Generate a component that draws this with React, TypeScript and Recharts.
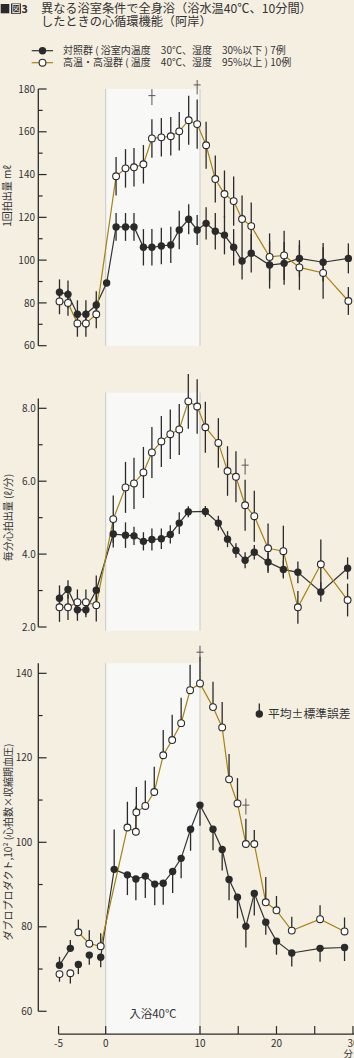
import React from 'react';
import {
  ComposedChart,
  Line,
  Scatter,
  XAxis,
  YAxis,
  ErrorBar,
  ReferenceArea,
  ReferenceLine,
  ReferenceDot,
} from 'recharts';

// ======================= DATA =======================
// x: minutes from start of bath (bath 0–10 min)
const xTickMinutes = [-5, 0, 10, 15, 20, 25, 30];
const xTickLabels = ['-5', '0', '10', '', '20', '', '30'];

// ---- Panel 1: 1回拍出量 (mℓ) ----
const svTimeCtrl = [-4.9, -4.0, -3.0, -2.1, -1.0, 0.1, 1.1, 2.1, 3.0, 4.0, 4.9, 5.9, 6.9, 7.8, 8.8, 9.7, 10.8, 12.0, 13.2, 14.4, 15.5, 16.7, 19.1, 21.0, 23.0, 26.1, 29.4];
const svCtrl = [85.0, 84.0, 74.7, 74.7, 79.0, 89.3, 115.5, 115.5, 115.5, 106.0, 106.0, 106.6, 107.1, 114.1, 119.1, 114.1, 117.2, 113.5, 111.7, 106.0, 99.6, 103.2, 97.7, 98.5, 100.8, 99.0, 100.8];
const svCtrlSE = [6, 6.5, 6.5, 6.5, 6.5, 0, 6.5, 6.5, 6.5, 8.5, 8.5, 8.5, 8.5, 9, 7, 7, 7.5, 8.5, 9, 8.5, 8.7, 9, 11, 10, 8.5, 9, 7];
const svTimeHigh = [-4.9, -4.0, -3.0, -2.1, -1.0, 1.1, 2.1, 3.0, 4.0, 4.9, 5.9, 6.9, 7.8, 8.8, 9.7, 10.8, 12.0, 13.2, 14.4, 15.5, 16.7, 19.1, 21.0, 23.0, 26.1, 29.4];
const svHigh = [80.7, 80.0, 70.4, 70.4, 74.7, 139.2, 142.9, 143.4, 144.8, 156.9, 157.4, 157.9, 160.2, 165.4, 163.6, 153.7, 137.9, 130.9, 127.6, 119.2, 115.9, 101.5, 102.2, 96.6, 94.0, 80.9];
const svHighSE = [6, 6, 6.2, 6.2, 6.5, 9, 9, 9, 9, 9, 9, 9, 9, 11.5, 11.5, 11, 11, 11, 11.5, 11, 11, 11, 11.5, 10.5, 12, 6.5];
const svDaggerTime = [4.9, 9.7];
const svDaggerLevel = [176.9, 181.9];

// ---- Panel 2: 毎分心拍出量 (ℓ/分) ----
const coTimeCtrl = [-4.9, -4.0, -3.0, -2.1, -1.0, 0.8, 2.1, 3.0, 4.0, 4.9, 5.9, 6.85, 7.8, 8.76, 10.7, 12.4, 13.6, 14.7, 15.9, 17.1, 18.9, 20.9, 22.8, 25.8, 29.3];
const coCtrl = [2.79, 3.03, 2.47, 2.47, 3.01, 4.55, 4.52, 4.5, 4.35, 4.4, 4.42, 4.54, 4.85, 5.16, 5.17, 4.85, 4.41, 4.1, 3.83, 4.05, 3.78, 3.58, 3.5, 2.96, 3.61];
const coCtrlSE = [0.35, 0.25, 0.3, 0.2, 0.4, 0.37, 0.35, 0.25, 0.25, 0.3, 0.28, 0.25, 0.3, 0.15, 0.15, 0.2, 0.22, 0.2, 0.22, 0.2, 0.25, 0.25, 0.3, 0.27, 0.3];
const coTimeHigh = [-4.9, -4.0, -3.0, -2.1, -1.0, 0.8, 2.1, 3.0, 4.0, 4.9, 5.9, 6.85, 7.8, 8.76, 9.7, 10.7, 12.4, 13.6, 14.7, 15.9, 17.1, 18.9, 20.9, 22.8, 25.8, 29.3];
const coHigh = [2.54, 2.54, 2.68, 2.68, 2.6, 4.96, 5.83, 5.94, 6.24, 6.79, 7.09, 7.29, 7.42, 8.19, 8.05, 7.48, 7.05, 6.28, 6.12, 5.34, 5.04, 4.16, 4.08, 2.54, 3.72, 2.74];
const coHighSE = [0.4, 0.35, 0.35, 0.35, 0.45, 0.65, 0.7, 0.7, 0.7, 0.7, 0.7, 0.68, 0.7, 0.75, 0.75, 0.7, 0.68, 0.68, 0.7, 0.7, 0.7, 0.68, 0.7, 0.45, 0.68, 0.45];
const coDaggerTime = [15.9];
const coDaggerLevel = [6.44];

// ---- Panel 3: ダブルプロダクト (10²) ----
const dpTimeCtrl = [-4.9, -3.75, -2.9, -1.74, -0.53, 0.9, 2.3, 3.2, 4.2, 5.2, 6.1, 7.1, 8.0, 9.0, 10.0, 11.7, 12.9, 13.8, 14.9, 16.0, 17.1, 18.6, 20.0, 22.0, 25.7, 28.9];
const dpCtrl = [70.9, 74.9, 71.1, 73.3, 72.8, 93.6, 92.3, 91.3, 92.0, 90.1, 90.3, 93.1, 96.2, 103.1, 108.8, 103.1, 98.3, 91.2, 87.0, 80.1, 87.9, 81.1, 76.6, 73.8, 74.9, 75.1];
const dpCtrlSElow = [0, 0, 2.3, 2.3, 2.4, 0, 4.8, 5, 5.2, 5, 5.1, 5.1, 4.7, 5.1, 4.9, 5, 5, 4.9, 5, 5, 5.2, 3, 3.2, 3.2, 3.2, 3.2];
const dpCtrlSEhigh = [2, 2, 0, 0, 0, 9.4, 0, 0, 0, 0, 0, 0, 0, 0, 0, 0, 0, 0, 0, 0, 0, 0, 0, 0, 0, 0];
const dpCtrlUnlinked = [2, 3];
const dpTimeHigh = [-4.9, -3.75, -2.9, -1.74, -0.53, 2.3, 3.2, 3.25, 4.2, 5.15, 6.1, 7.05, 8.0, 8.95, 10.0, 11.7, 12.9, 13.8, 14.9, 16.0, 17.1, 18.6, 20.0, 22.0, 25.7, 28.9];
const dpHigh = [68.8, 69.0, 78.7, 76.0, 75.4, 103.5, 102.5, 107.1, 108.6, 111.9, 120.6, 124.2, 128.2, 136.0, 137.6, 132.0, 127.2, 114.9, 109.2, 99.6, 99.6, 85.8, 83.9, 79.1, 81.8, 78.9];
const dpHighSElow = [1.8, 2.4, 0, 0, 0, 0, 0, 0, 0, 0, 0, 0, 0, 0, 0, 0, 0, 0, 0, 0, 0, 0, 0, 0, 0, 0];
const dpHighSEhigh = [0, 0, 3, 3.2, 3.1, 6.1, 6, 6, 6, 6, 6, 6, 6, 6, 6.3, 6, 6, 6, 6, 6, 3.3, 6, 3.4, 3.3, 3.3, 3.3];
const dpHighUnlinked = [0, 1];
const dpDaggerTime = [10.0, 16.0];
const dpDaggerLevel = [145.0, 108.8];

// ======================= STYLE / LAYOUT =======================
const FONT = "'Noto Sans CJK JP', 'Noto Sans', sans-serif";
const BG = '#f5efe2';
const SHADE = '#f8f8f7';
const SHADE_EDGE = '#c8c8c8';
const INK = '#2a2a2a';
const TEXT = '#333';
const GOLD = '#a8820e';
const W = 354;
const PLOT_LEFT = 38.3;
const ZERO_PX = 105.7;
const PX_PER_MIN = 9.43;
const BATH_END = 10;
const POST_SCALE = 0.811; // the axis is compressed after the bath

const toAxis = (t: number) => (t <= BATH_END ? t : BATH_END + (t - BATH_END) * POST_SCALE);
const uL = (PLOT_LEFT - ZERO_PX) / PX_PER_MIN;
const uR = (W - ZERO_PX) / PX_PER_MIN;
const xTicksU = xTickMinutes.map(toAxis);

type Pt = { u: number; v: number | null; e?: any };

const pts = (ts: number[], vs: number[], es: any[]): Pt[] =>
  ts.map((t, i) => ({ u: toAxis(t), v: vs[i], e: es[i] }));
const linePts = (ts: number[], vs: number[], unlinked: number[] = []): Pt[] =>
  ts.map((t, i) => ({ u: toAxis(t), v: unlinked.includes(i) ? null : vs[i] }));
const daggerPts = (ts: number[], vs: number[]) => ts.map((t, i) => ({ u: toAxis(t), v: vs[i] }));

const BlackDot = (p: any) => <circle cx={p.cx} cy={p.cy} r={3.7} fill={INK} />;
const WhiteDot = (p: any) => (
  <circle cx={p.cx} cy={p.cy} r={3.4} fill="#fff" stroke={INK} strokeWidth={1.1} />
);
const Dagger = (p: any) => (
  <g stroke="#555" strokeWidth={1}>
    <line x1={p.cx} y1={p.cy - 6.5} x2={p.cx} y2={p.cy + 9.5} />
    <line x1={p.cx - 3.5} y1={p.cy} x2={p.cx + 3.5} y2={p.cy} />
  </g>
);

const XTick = (p: any) => {
  const { x, y, payload } = p;
  const idx = xTicksU.findIndex((u) => Math.abs(u - payload.value) < 1e-6);
  const label = idx >= 0 ? xTickLabels[idx] : '';
  return (
    <g>
      <line x1={x} y1={y} x2={x} y2={y - 8} stroke={INK} strokeWidth={1.2} />
      {label ? (
        <text x={x} y={y + 13} textAnchor="middle" fontSize={10} fill={TEXT} fontFamily={FONT}>
          {label}
        </text>
      ) : null}
    </g>
  );
};

type PanelProps = {
  chartTop: number;
  plotTop: number;
  plotBottom: number;
  domain: [number, number];
  yTicks: number[];
  major: (v: number) => boolean;
  fmt: (v: number) => string;
  labelGap: number;
  axisRange: [number, number];
  shade: [number, number];
  ctrl: Pt[];
  high: Pt[];
  ctrlLine: Pt[];
  highLine: Pt[];
  daggers: { u: number; v: number }[];
  showX: boolean;
};

function Panel(props: PanelProps) {
  const { chartTop, plotTop, plotBottom, domain, yTicks, major, fmt, labelGap, axisRange, shade, ctrl, high, ctrlLine, highLine, daggers, showX } = props;
  const mTop = plotTop - chartTop;
  const xH = showX ? 24 : 0;
  const mBottom = showX ? 0 : 8;
  const height = mTop + (plotBottom - plotTop) + xH + mBottom;
  const YTick = (p: any) => {
    const v = p.payload.value;
    const isMajor = major(v);
    return (
      <g>
        <line x1={p.x} y1={p.y} x2={p.x + (isMajor ? 8.3 : 4.3)} y2={p.y} stroke={INK} strokeWidth={1.2} />
        {isMajor ? (
          <text x={p.x - labelGap} y={p.y + 3.6} textAnchor="end" fontSize={10} fill={TEXT} fontFamily={FONT}>
            {fmt(v)}
          </text>
        ) : null}
      </g>
    );
  };
  return (
    <div style={{ position: 'absolute', left: 0, top: chartTop }}>
      <ComposedChart width={W} height={height} margin={{ top: mTop, right: 0, bottom: mBottom, left: 0 }}>
        <XAxis
          type="number"
          dataKey="u"
          domain={[uL, uR]}
          hide={!showX}
          height={xH}
          ticks={xTicksU}
          interval={0}
          tick={<XTick />}
          tickSize={0}
          tickMargin={0}
          axisLine={false}
          tickLine={false}
        />
        <YAxis
          type="number"
          domain={domain}
          ticks={yTicks}
          interval={0}
          width={PLOT_LEFT}
          tick={(p: any) => <YTick {...p} />}
          tickSize={0}
          tickMargin={0}
          axisLine={false}
          tickLine={false}
        />
        <ReferenceArea x1={0} x2={BATH_END} y1={shade[0]} y2={shade[1]} fill={SHADE} fillOpacity={1} stroke="none" ifOverflow="visible" />
        <ReferenceLine segment={[{ x: 0, y: shade[0] }, { x: 0, y: shade[1] }]} stroke={SHADE_EDGE} strokeWidth={1} ifOverflow="visible" />
        <ReferenceLine segment={[{ x: BATH_END, y: shade[0] }, { x: BATH_END, y: shade[1] }]} stroke={SHADE_EDGE} strokeWidth={1} ifOverflow="visible" />
        <ReferenceLine segment={[{ x: uL, y: axisRange[0] }, { x: uL, y: axisRange[1] }]} stroke={INK} strokeWidth={1.3} ifOverflow="visible" />
        {showX ? (
          <ReferenceLine segment={[{ x: toAxis(-5), y: domain[0] }, { x: uR, y: domain[0] }]} stroke={INK} strokeWidth={1.3} ifOverflow="visible" />
        ) : null}
        <Line data={ctrlLine} dataKey="v" type="linear" stroke="#333" strokeWidth={1.2} dot={false} activeDot={false} connectNulls={false} isAnimationActive={false} />
        <Line data={highLine} dataKey="v" type="linear" stroke={GOLD} strokeWidth={1.2} dot={false} activeDot={false} connectNulls={false} isAnimationActive={false} />
        <Scatter data={ctrl} dataKey="v" shape={BlackDot} isAnimationActive={false}>
          <ErrorBar dataKey="e" direction="y" width={0} stroke={INK} strokeWidth={1.3} />
        </Scatter>
        <Scatter data={high} dataKey="v" shape={WhiteDot} isAnimationActive={false}>
          <ErrorBar dataKey="e" direction="y" width={0} stroke={INK} strokeWidth={1.3} />
        </Scatter>
        {daggers.map((d, i) => (
          <ReferenceDot key={i} x={d.u} y={d.v} r={0} ifOverflow="visible" shape={Dagger} />
        ))}
      </ComposedChart>
    </div>
  );
}

const range = (a: number, b: number, s: number) => {
  const out: number[] = [];
  for (let v = a; v <= b + 1e-9; v += s) out.push(Math.round(v * 100) / 100);
  return out;
};

export default function App() {
  const legend1 = '対照群 ( 浴室内温度　30℃、湿度　30%以下 ) 7例';
  const legend2 = '高温・高湿群 ( 温度　40℃、湿度　95%以上 ) 10例';
  return (
    <div style={{ position: 'absolute', left: 0, top: 0, width: W, height: 1058, background: BG, overflow: 'hidden', fontFamily: FONT }}>
      <Panel
        chartTop={80}
        plotTop={89}
        plotBottom={345.7}
        domain={[60, 180]}
        yTicks={range(60, 180, 10)}
        major={(v) => v % 20 === 0}
        fmt={(v) => String(v)}
        labelGap={3.3}
        axisRange={[60, 180]}
        shade={[60, 180]}
        ctrl={pts(svTimeCtrl, svCtrl, svCtrlSE)}
        high={pts(svTimeHigh, svHigh, svHighSE)}
        ctrlLine={linePts(svTimeCtrl, svCtrl)}
        highLine={linePts(svTimeHigh, svHigh)}
        daggers={daggerPts(svDaggerTime, svDaggerLevel)}
        showX={false}
      />
      <Panel
        chartTop={365}
        plotTop={371.85}
        plotBottom={630.65}
        domain={[1.9, 9.0]}
        yTicks={range(2, 8, 1)}
        major={(v) => Math.round(v) % 2 === 0}
        fmt={(v) => v.toFixed(1)}
        labelGap={2.5}
        axisRange={[2.0, 8.27]}
        shade={[1.9, 8.43]}
        ctrl={pts(coTimeCtrl, coCtrl, coCtrlSE)}
        high={pts(coTimeHigh, coHigh, coHighSE)}
        ctrlLine={linePts(coTimeCtrl, coCtrl)}
        highLine={linePts(coTimeHigh, coHigh)}
        daggers={daggerPts(coDaggerTime, coDaggerLevel)}
        showX={false}
      />
      <Panel
        chartTop={640}
        plotTop={654.3}
        plotBottom={1034.1}
        domain={[54.6, 144.5]}
        yTicks={range(60, 140, 10)}
        major={(v) => v % 20 === 0}
        fmt={(v) => String(v)}
        labelGap={6}
        axisRange={[60, 142.4]}
        shade={[54.6, 142.4]}
        ctrl={pts(dpTimeCtrl, dpCtrl, dpCtrlSElow.map((l, i) => [l, dpCtrlSEhigh[i]]))}
        high={pts(dpTimeHigh, dpHigh, dpHighSElow.map((l, i) => [l, dpHighSEhigh[i]]))}
        ctrlLine={linePts(dpTimeCtrl, dpCtrl, dpCtrlUnlinked)}
        highLine={linePts(dpTimeHigh, dpHigh, dpHighUnlinked)}
        daggers={daggerPts(dpDaggerTime, dpDaggerLevel)}
        showX={true}
      />
      <svg width={W} height={1058} style={{ position: 'absolute', left: 0, top: 0, pointerEvents: 'none' }} fontFamily={FONT}>
        {/* title */}
        <rect x={0.7} y={4} width={8.6} height={9.3} fill={INK} />
        <rect x={11} y={3.5} width={10} height={10.3} fill={INK} />
        <text x={16} y={12.4} textAnchor="middle" fontSize={9} fill="#fff">図</text>
        <text x={21.6} y={13.2} fontSize={10.5} fontWeight="bold" fill={INK}>3</text>
        <text x={41} y={12.8} fontSize={12.2} fill={TEXT}>異なる浴室条件で全身浴（浴水温40℃、10分間）</text>
        <text x={41} y={25.8} fontSize={12.2} fill={TEXT}>したときの心循環機能（阿岸）</text>
        {/* legend */}
        <line x1={31.7} y1={50.7} x2={53} y2={50.7} stroke="#333" strokeWidth={1.2} />
        <circle cx={42.5} cy={50.7} r={3.7} fill={INK} />
        <text x={63} y={54.2} fontSize={10} fill={TEXT}>{legend1}</text>
        <line x1={31.7} y1={62.7} x2={53} y2={62.7} stroke={GOLD} strokeWidth={1.2} />
        <circle cx={42.5} cy={62.7} r={3.4} fill="#fff" stroke={INK} strokeWidth={1.1} />
        <text x={63} y={66.2} fontSize={10} fill={TEXT}>{legend2}</text>
        {/* y labels */}
        <text transform="translate(10.8,196) rotate(-90)" textAnchor="middle" fontSize={10} fill={TEXT}>1回拍出量 mℓ</text>
        <text transform="translate(11.5,517.5) rotate(-90)" textAnchor="middle" fontSize={10} fill={TEXT}>毎分心拍出量 (ℓ/分)</text>
        <text transform="translate(11.5,842) rotate(-90)" textAnchor="middle" fontSize={10} fill={TEXT}>ダブロプロダクト,10² (心拍数×収縮期血圧)</text>
        {/* bath label */}
        <text x={ZERO_PX + 5 * PX_PER_MIN} y={1018} textAnchor="middle" fontSize={11.5} fill={TEXT}>入浴40℃</text>
        {/* mean ± SE */}
        <line x1={259.3} y1={714} x2={259.3} y2={703.5} stroke={INK} strokeWidth={1.3} />
        <circle cx={259.3} cy={714} r={3.7} fill={INK} />
        <text x={268} y={717.6} fontSize={11.8} fill={TEXT}>平均±標準誤差</text>
        <text x={348.3} y={1057} textAnchor="middle" fontSize={9.5} fill={TEXT}>分</text>
      </svg>
    </div>
  );
}
